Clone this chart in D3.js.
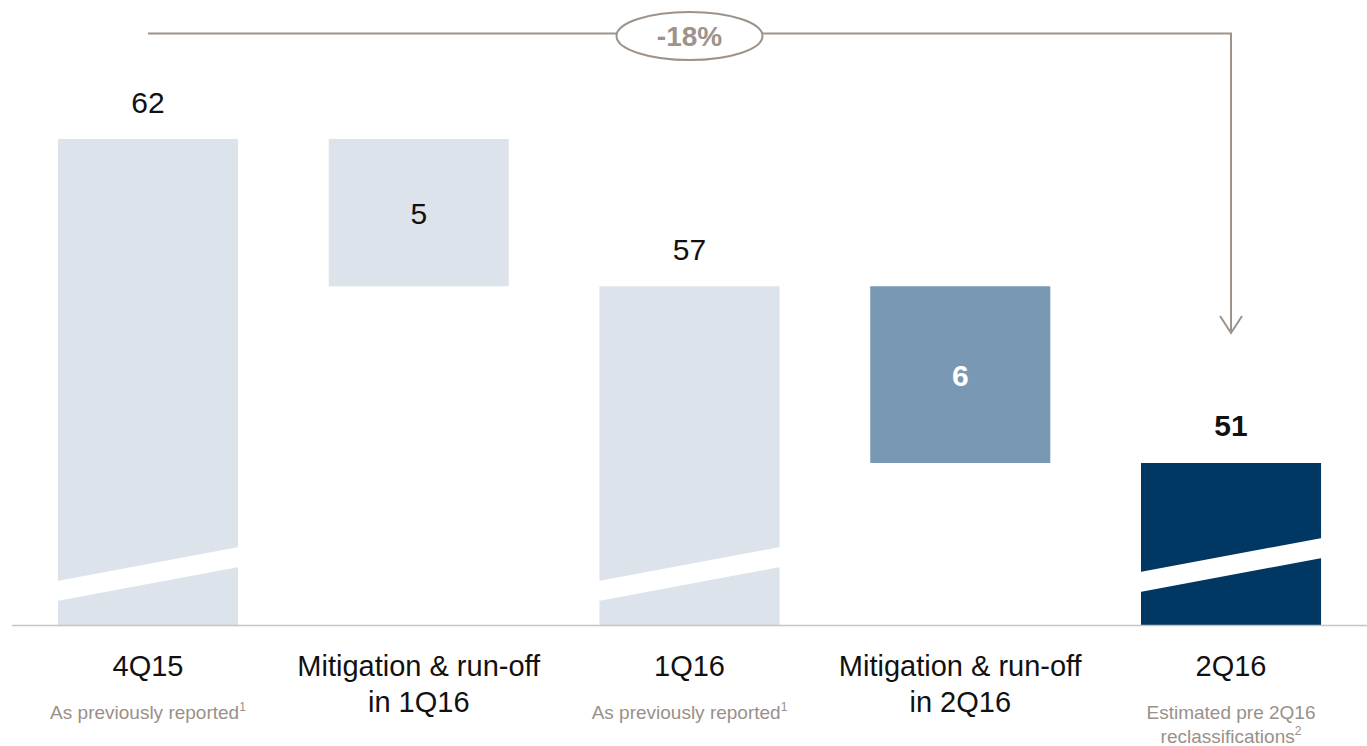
<!DOCTYPE html>
<html>
<head>
<meta charset="utf-8">
<script src="https://cdn.jsdelivr.net/npm/d3@7"></script>
<style>
  body { margin: 0; background: #fff; }
  svg text { font-family: "Liberation Sans", Arial, sans-serif; }
</style>
</head>
<body>
<div class="waterfall-container"></div>
<script>
// chart data
const categories = ["4Q15", "Mitigation & run-off in 1Q16", "1Q16", "Mitigation & run-off in 2Q16", "2Q16"];
const labelLines = [["4Q15"], ["Mitigation & run-off", "in 1Q16"], ["1Q16"], ["Mitigation & run-off", "in 2Q16"], ["2Q16"]];
const subLabels = [["As previously reported", "1"], null, ["As previously reported", "1"], null, ["Estimated pre 2Q16", "reclassifications", "2"]];
const values = [62, -5, 57, -6, 51];
const barKinds = ["total", "delta", "total", "delta", "final"];
const changeLabel = "-18%";

let dims = {
    width: 1367,
    height: 746,
    baseline: 625,
    top: 139
}

const colors = {
    total: "#dce3ea",
    delta1: "#dce3ea",
    delta2: "#7898b3",
    final: "#013763",
    axis: "#cbc4be",
    bracket: "#9d938b",
    sub: "#9a9089"
}

const svg = d3.select(".waterfall-container")
    .append("svg")
    .attr("width", dims.width)
    .attr("height", dims.height)

// build waterfall rows
let running = 0
const rows = values.map((v, i) => {
    let row
    if (barKinds[i] === "delta") {
        row = { cat: categories[i], from: running, to: running + v, value: Math.abs(v), kind: "delta", i: i }
        running = running + v
    } else {
        running = v
        row = { cat: categories[i], from: null, to: v, value: v, kind: barKinds[i], i: i }
    }
    return row
})

const xScale = d3.scaleBand()
    .domain(categories)
    .range([12.6, 1366.4])
    .paddingInner(0.335)
    .paddingOuter(0.1675)

// broken axis: the bars start at a floor value instead of zero
const yScale = d3.scaleLinear()
    .domain([45.5, d3.max(values)])
    .range([dims.baseline, dims.top])

const bw = xScale.bandwidth()

rows.forEach((r, k) => {
    const x0 = xScale(r.cat)
    const cx = x0 + bw / 2
    if (r.kind === "delta") {
        const yTop = yScale(Math.max(r.from, r.to))
        const yBot = yScale(Math.min(r.from, r.to))
        const fill = k === 1 ? colors.delta1 : colors.delta2
        svg.append("rect")
            .attr("x", x0).attr("y", yTop)
            .attr("width", bw).attr("height", yBot - yTop)
            .attr("fill", fill)
        svg.append("text")
            .attr("x", cx).attr("y", (yTop + yBot) / 2 + 11)
            .attr("text-anchor", "middle")
            .attr("font-size", "30px")
            .attr("font-weight", k === 1 ? "normal" : "bold")
            .attr("fill", k === 1 ? "#111" : "#fff")
            .text(r.value)
    } else {
        const yTop = yScale(r.to)
        const fill = r.kind === "final" ? colors.final : colors.total
        svg.append("rect")
            .attr("x", x0).attr("y", yTop)
            .attr("width", bw).attr("height", dims.baseline - yTop)
            .attr("fill", fill)
        // break marker (white slanted gap)
        const lift = r.kind === "final" ? 9 : 0
        const l = dims.baseline - 34 - lift, rr = dims.baseline - 68 - lift
        svg.append("polygon")
            .attr("points", [
                [x0 - 1, l + 10], [x0 + bw + 1, rr + 10],
                [x0 + bw + 1, rr - 10], [x0 - 1, l - 10]
            ].map(p => p.join(",")).join(" "))
            .attr("fill", "#fff")
        svg.append("text")
            .attr("x", cx).attr("y", yTop - (r.kind === "final" ? 27 : 26))
            .attr("text-anchor", "middle")
            .attr("font-size", "30px")
            .attr("font-weight", r.kind === "final" ? "bold" : "normal")
            .attr("fill", "#111")
            .text(r.value)
    }
})

// baseline
svg.append("line")
    .attr("x1", 12).attr("x2", dims.width)
    .attr("y1", dims.baseline + 0.5).attr("y2", dims.baseline + 0.5)
    .attr("stroke", colors.axis)
    .attr("stroke-width", 1.5)

// category labels
categories.forEach((c, i) => {
    const cx = xScale(c) + bw / 2
    labelLines[i].forEach((line, j) => {
        svg.append("text")
            .attr("x", cx).attr("y", 676 + j * 36)
            .attr("text-anchor", "middle")
            .attr("font-size", "29px")
            .attr("fill", "#111")
            .text(line)
    })
    const sub = subLabels[i]
    if (sub) {
        const lines = sub.slice(0, -1)
        const sup = sub[sub.length - 1]
        lines.forEach((line, j) => {
            const t = svg.append("text")
                .attr("x", cx).attr("y", 719 + j * 24)
                .attr("text-anchor", "middle")
                .attr("font-size", "19px")
                .attr("fill", colors.sub)
            t.append("tspan").text(line)
            if (j === lines.length - 1) {
                t.append("tspan")
                    .attr("dy", "-8")
                    .attr("font-size", "12px")
                    .text(sup)
            }
        })
    }
})

// -18% bracket arrow
const xStart = xScale(categories[0]) + bw / 2
const xEnd = xScale(categories[4]) + bw / 2
const yLine = 33.5
const yArrow = 333
svg.append("path")
    .attr("d", `M${xStart},${yLine} H${xEnd} V${yArrow}`)
    .attr("fill", "none")
    .attr("stroke", colors.bracket)
    .attr("stroke-width", 2)
svg.append("path")
    .attr("d", `M${xEnd - 11},${yArrow - 17} L${xEnd},${yArrow} L${xEnd + 11},${yArrow - 17}`)
    .attr("fill", "none")
    .attr("stroke", colors.bracket)
    .attr("stroke-width", 2)

const ex = (xScale(categories[2]) + bw / 2)
svg.append("ellipse")
    .attr("cx", ex).attr("cy", 36)
    .attr("rx", 73).attr("ry", 24)
    .attr("fill", "#fff")
    .attr("stroke", colors.bracket)
    .attr("stroke-width", 2)
svg.append("text")
    .attr("x", ex).attr("y", 46)
    .attr("text-anchor", "middle")
    .attr("font-size", "28px")
    .attr("font-weight", "bold")
    .attr("fill", colors.bracket)
    .text(changeLabel)
</script>
</body>
</html>
